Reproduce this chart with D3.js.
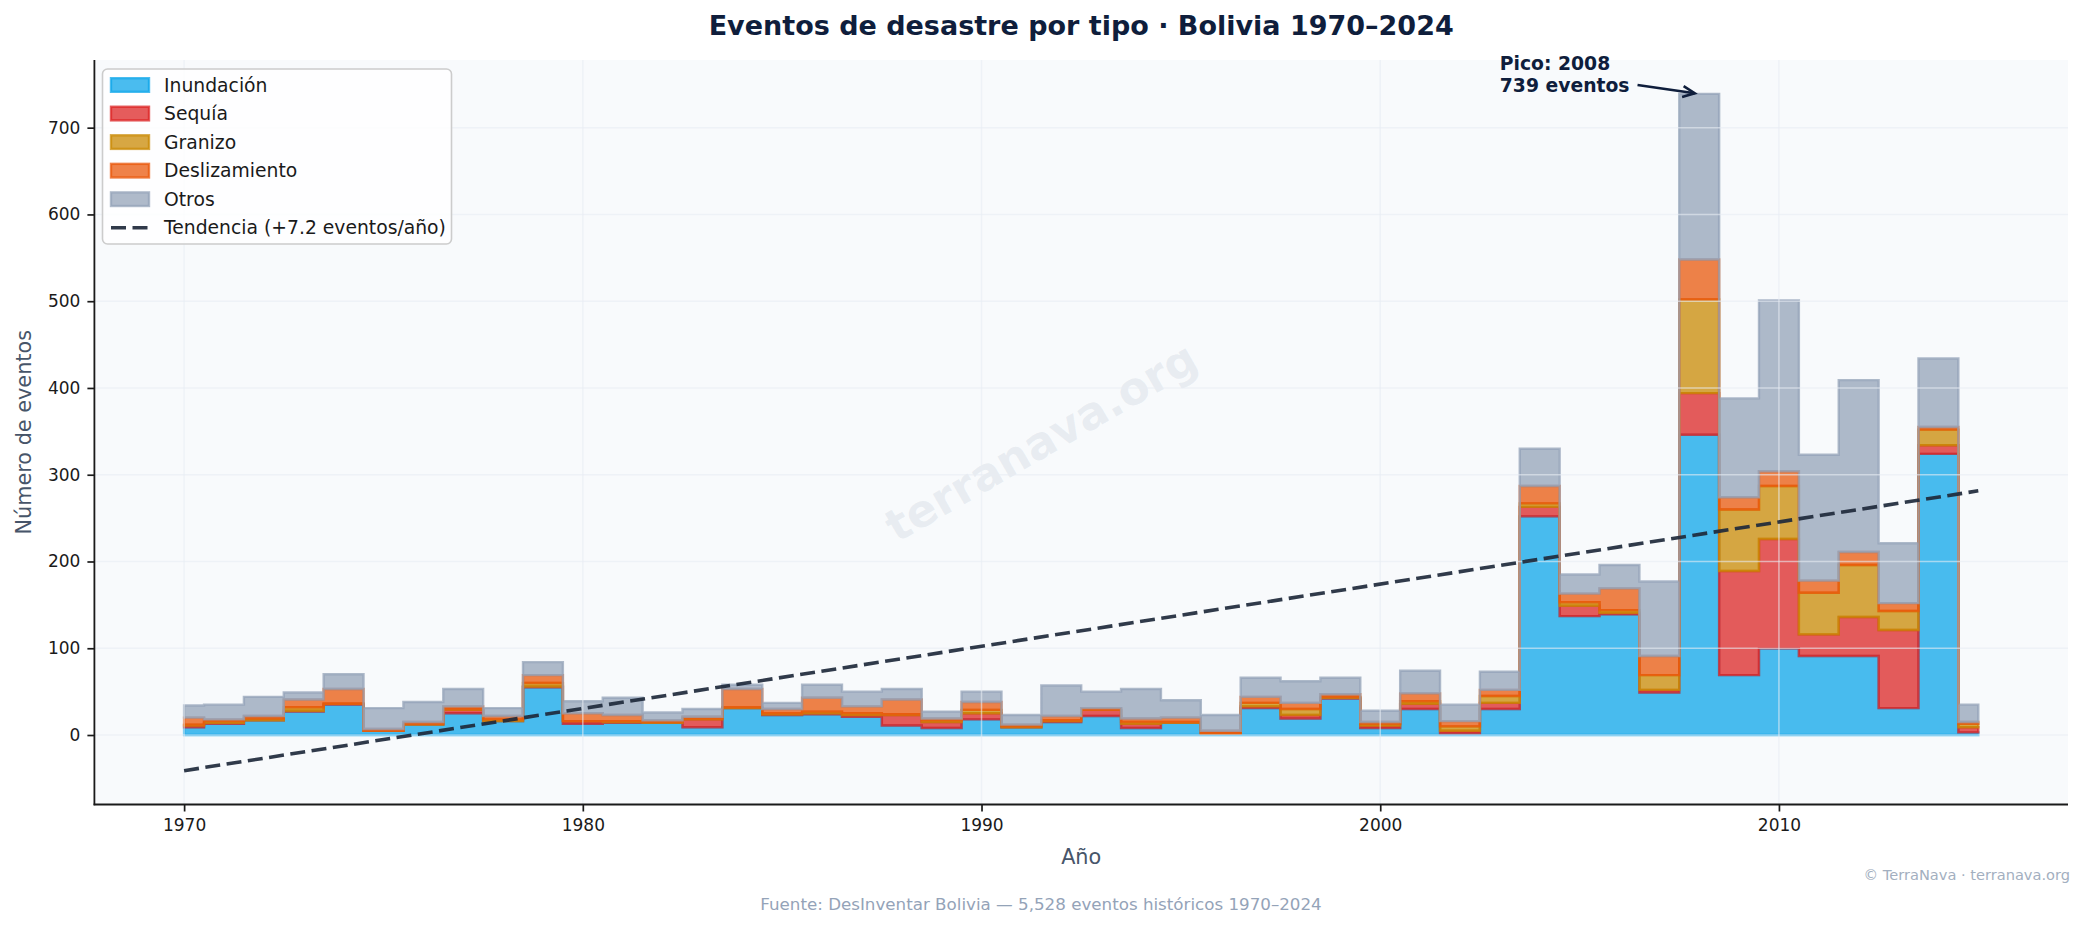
<!DOCTYPE html>
<html><head><meta charset="utf-8">
<script src="https://cdn.jsdelivr.net/npm/d3@7/dist/d3.min.js"></script>
<style>
body{margin:0;background:#fff;}
svg{display:block;font-family:"DejaVu Sans",sans-serif;}
</style>
</head><body><svg id="c" width="2085" height="928"></svg>
<script>
// ---------------- DATA ----------------
const years = [1970,1971,1972,1973,1974,1975,1976,1977,1978,1979,
               1980,1981,1982,1983,1984,1985,1986,1987,1988,1989,
               1990,1991,1992,1993,1994,1995,1996,1997,1998,1999,
               2000,2001,2002,2003,2004,2005,2006,2007,2008,2009,
               2010,2011,2012,2013,2014,2015];
const inundacion = [9,13,17,27,35,5,12,25,16,55, 13,14,14,9,31,23,24,21,11,8,
                    18,9,15,22,8,14,2,31,19,42, 8,30,2,30,252,137,139,49,346,69,
                    100,91,91,31,324,3];
const sequia     = [2,1,0,1,1,0,0,4,0,1, 3,1,0,9,0,1,1,2,12,7,
                    7,0,1,7,5,0,0,2,4,1, 3,6,3,7,11,12,2,3,48,120,
                    126,25,45,90,10,6];
const granizo    = [1,2,2,4,0,0,1,1,2,4, 0,1,1,1,1,1,2,2,1,2,
                    4,1,1,0,2,1,0,4,7,1, 2,3,5,8,4,4,3,17,108,71,
                    61,48,60,22,18,4];
const deslizamiento = [8,2,3,9,17,2,2,3,4,9, 9,7,2,2,21,5,16,8,17,2,
                    9,2,5,2,4,5,3,7,7,3, 2,9,6,7,20,10,25,22,46,14,
                    17,14,15,9,3,2];
const otros      = [14,17,22,8,17,24,23,20,9,15, 14,20,9,9,5,7,15,17,12,8,
                    12,11,35,19,34,20,18,22,25,19, 13,26,19,21,43,22,27,86,191,114,
                    197,145,198,69,79,20];
const seriesNames = ["Inundación","Sequía","Granizo","Deslizamiento","Otros"];
const seriesColors = ["#0ea5e9","#dc2626","#ca8a04","#ea580c","#94a3b8"];
const xTicks = [1970,1980,1990,2000,2010];
const yTicks = [0,100,200,300,400,500,600,700];
const titleText = "Eventos de desastre por tipo · Bolivia 1970–2024";
const sourceText = "Fuente: DesInventar Bolivia — 5,528 eventos históricos 1970–2024";

// ---------------- SETUP ----------------
const W=2085, H=928;
const P={left:94.4,right:2068,top:60,bottom:804.5};
const svg=d3.select('#c');
svg.append('rect').attr('width',W).attr('height',H).attr('fill','#fff');
svg.append('rect').attr('x',P.left).attr('y',P.top).attr('width',P.right-P.left)
   .attr('height',P.bottom-P.top).attr('fill','#f8fafc');

const valuesArr=[inundacion,sequia,granizo,deslizamiento,otros];
const rows = years.map((y,i)=>{const r={year:y}; seriesNames.forEach((k,j)=>r[k]=valuesArr[j][i]); return r;});
const stacked = d3.stack().keys(seriesNames)(rows);
const totals = rows.map(r=>d3.sum(seriesNames,k=>r[k]));

// linear trend (least squares)
const mx=d3.mean(years), my=d3.mean(totals);
const slope=d3.sum(years,(x,i)=>(x-mx)*(totals[i]-my))/d3.sum(years,x=>(x-mx)*(x-mx));
const intercept=my-slope*mx;
const trendY=x=>intercept+slope*x;

const x0=d3.min(years), x1=d3.max(years), xpad=(x1-x0)*0.05;
const yMin=Math.min(0,trendY(x0),trendY(x1)), yMax=Math.max(d3.max(totals),trendY(x1));
const ypad=(yMax-yMin)*0.05;
const x=d3.scaleLinear().domain([x0-xpad,x1+xpad]).range([P.left,P.right]);
const y=d3.scaleLinear().domain([yMin-ypad,yMax+ypad]).range([P.bottom,P.top]);

const plot=svg.append('g');
// watermark
plot.append('text').attr('transform','translate(1041,442) rotate(-30)')
  .attr('text-anchor','middle').attr('dominant-baseline','central')
  .attr('font-size',45).attr('font-weight','bold').attr('fill','#94a3b8').attr('fill-opacity',0.16)
  .text('terranava.org');

// stacked step areas
const area=d3.area().curve(d3.curveStep)
  .x(d=>x(d.data.year)).y0(d=>y(d[0])).y1(d=>y(d[1]));
stacked.forEach((layer,i)=>{
  plot.append('path').datum(layer).attr('d',area)
    .attr('fill',seriesColors[i]).attr('fill-opacity',0.75)
    .attr('stroke',seriesColors[i]).attr('stroke-opacity',0.75)
    .attr('stroke-width',2.4).attr('stroke-linejoin','miter');
});

// grid (above fills)
const grid=svg.append('g').attr('stroke','#e8edf3').attr('stroke-opacity',0.6).attr('stroke-width',1.5);
yTicks.forEach(t=>grid.append('line').attr('x1',P.left).attr('x2',P.right).attr('y1',y(t)).attr('y2',y(t)));
xTicks.forEach(t=>grid.append('line').attr('y1',P.top).attr('y2',P.bottom).attr('x1',x(t)).attr('x2',x(t)));

// trend line
svg.append('path').datum([x0,x1])
  .attr('d',d3.line().x(d=>x(d)).y(d=>y(trendY(d))))
  .attr('fill','none').attr('stroke','#1e293b').attr('stroke-opacity',0.92).attr('stroke-width',3.6)
  .attr('stroke-dasharray','15,6.5');

// axes
const ax=svg.append('g').attr('transform',`translate(0,${P.bottom})`)
  .call(d3.axisBottom(x).tickValues(xTicks).tickFormat(d3.format('d')).tickSize(7).tickPadding(7).tickSizeOuter(0));
const ay=svg.append('g').attr('transform',`translate(${P.left},0)`)
  .call(d3.axisLeft(y).tickValues(yTicks).tickFormat(d3.format('d')).tickSize(7).tickPadding(7).tickSizeOuter(0));
[ax,ay].forEach(g=>{
  g.select('.domain').remove();
  g.selectAll('.tick line').attr('stroke','#1a1a1a').attr('stroke-width',1.7);
  g.selectAll('.tick text').attr('font-size',17).attr('font-family','DejaVu Sans').attr('fill','#1a1a1a');
});
svg.append('line').attr('x1',P.left).attr('x2',P.left).attr('y1',P.top).attr('y2',P.bottom+0.8)
  .attr('stroke','#1a1a1a').attr('stroke-width',1.8);
svg.append('line').attr('x1',P.left-0.8).attr('x2',P.right).attr('y1',P.bottom).attr('y2',P.bottom)
  .attr('stroke','#1a1a1a').attr('stroke-width',1.8);

// labels
svg.append('text').attr('x',(P.left+P.right)/2).attr('y',35).attr('text-anchor','middle')
  .attr('font-size',27).attr('font-weight','bold').attr('fill','#0f1e3c').text(titleText);
svg.append('text').attr('x',(P.left+P.right)/2).attr('y',864).attr('text-anchor','middle')
  .attr('font-size',20.8).attr('fill','#475569').text('Año');
svg.append('text').attr('transform',`translate(24,${(P.top+P.bottom)/2}) rotate(-90)`)
  .attr('text-anchor','middle').attr('dominant-baseline','central')
  .attr('font-size',20.8).attr('fill','#475569').text('Número de eventos');
svg.append('text').attr('x',1041).attr('y',910).attr('text-anchor','middle')
  .attr('font-size',16.7).attr('fill','#94a3b8').text(sourceText);
svg.append('text').attr('x',2070).attr('y',880).attr('text-anchor','end')
  .attr('font-size',14.6).attr('fill','#a3afc0').text('© TerraNava · terranava.org');

// annotation of peak
const pi=d3.maxIndex(totals), py=years[pi], pv=totals[pi];
const ann=svg.append('g').attr('font-size',18.75).attr('font-weight','bold').attr('fill','#0f1e3c');
const ty=y(pv*1.03);
const tx=x(py-5);
const l1=ann.append('text').attr('x',tx).attr('y',ty-11+6.8).text(`Pico: ${py}`);
const l2=ann.append('text').attr('x',tx).attr('y',ty+11+6.8).text(`${pv} eventos`);
const tw=Math.max(l1.node().getComputedTextLength(),l2.node().getComputedTextLength());
const cx=tx+tw/2, cy=ty;
const txp=x(py), typ=y(pv);
const dx=txp-cx, dy=typ-cy, len=Math.hypot(dx,dy), ux=dx/len, uy=dy/len;
const tStart=(tw/2+8)/ux;
const sx=cx+ux*tStart, sy=cy+uy*tStart;
const ex=txp-ux*4.5, ey=typ-uy*4.5;
const ac='#0f1e3c';
svg.append('line').attr('x1',sx).attr('y1',sy).attr('x2',ex).attr('y2',ey)
  .attr('stroke',ac).attr('stroke-width',2.6);
const hl=12, hw=5.5;
svg.append('path').attr('d',`M${ex-ux*hl-uy*hw},${ey-uy*hl+ux*hw}L${ex},${ey}L${ex-ux*hl+uy*hw},${ey-uy*hl-ux*hw}`)
  .attr('fill','none').attr('stroke',ac).attr('stroke-width',2.6).attr('stroke-linejoin','miter');

// legend
const lg=svg.append('g');
lg.append('rect').attr('x',102.5).attr('y',69).attr('width',349).attr('height',175).attr('rx',5)
  .attr('fill','#ffffff').attr('fill-opacity',0.8).attr('stroke','#cccccc').attr('stroke-width',1.6);
const rowH=28.55, r0=85;
seriesNames.forEach((n,i)=>{
  const cyr=r0+i*rowH;
  lg.append('rect').attr('x',111).attr('y',cyr-6.8).attr('width',38).attr('height',13.6)
    .attr('fill',seriesColors[i]).attr('fill-opacity',0.75)
    .attr('stroke',seriesColors[i]).attr('stroke-opacity',0.75).attr('stroke-width',2.4);
  lg.append('text').attr('x',164).attr('y',cyr).attr('dominant-baseline','central')
    .attr('font-size',18.75).attr('fill','#1a1a1a').text(n);
});
const cyt=r0+5*rowH;
lg.append('line').attr('x1',111).attr('x2',149).attr('y1',cyt).attr('y2',cyt)
  .attr('stroke','#1e293b').attr('stroke-opacity',0.92).attr('stroke-width',3.6).attr('stroke-dasharray','15,6.5');
lg.append('text').attr('x',164).attr('y',cyt).attr('dominant-baseline','central')
  .attr('font-size',18.75).attr('fill','#1a1a1a')
  .text(`Tendencia (${slope>=0?'+':''}${slope.toFixed(1)} eventos/año)`);
</script>
</body></html>
